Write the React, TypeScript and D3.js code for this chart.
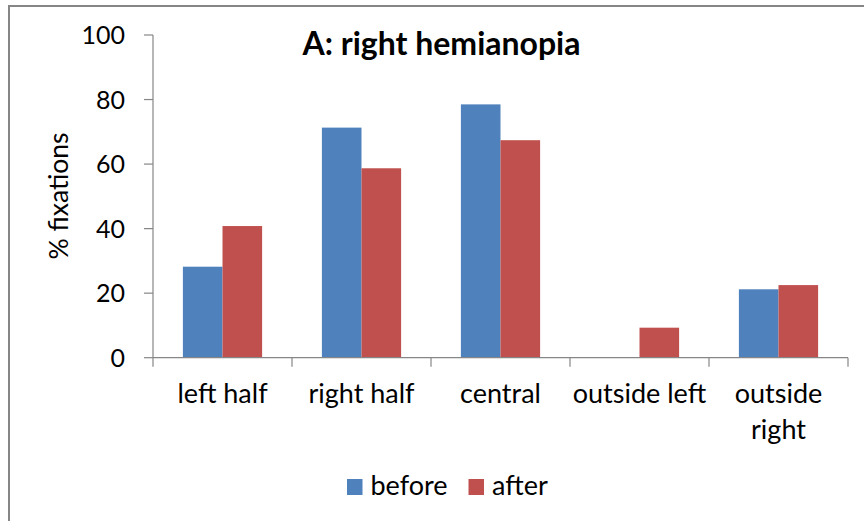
import React from "react";
import * as d3 from "d3";

const categories = ["left half", "right half", "central", "outside left", "outside right"];
const categoryLines = [["left half"], ["right half"], ["central"], ["outside left"], ["outside", "right"]];
const seriesNames = ["before", "after"];
const before = [28.2, 71.3, 78.5, 0, 21.2];
const after = [40.8, 58.7, 67.4, 9.3, 22.5];
const yTicks = [0, 20, 40, 60, 80, 100];
const colors = ["#4F81BD", "#C0504D"];

const W = 864;
const H = 521;
const FONT = "Lato, 'Open Sans', sans-serif";

export default function App() {
  const x0 = 153, x1 = 848, yBottom = 357.7, yTop = 35;
  const x = d3.scaleBand<string>().domain(categories).range([x0, x1]).paddingInner(0).paddingOuter(0);
  const y = d3.scaleLinear().domain([0, 100]).range([yBottom, yTop]);
  const groupPad = 0.215;
  const bw = x.bandwidth();
  const inner = d3.scaleBand<string>().domain(seriesNames).range([bw * groupPad, bw * (1 - groupPad)]);
  const data = [before, after];
  const legendX = [347, 468.5];

  return (
    <svg width={W} height={H} style={{ position: "absolute", left: 0, top: 0, background: "#fff" }}>
      <rect x={9} y={6} width={W + 10} height={H + 10} fill="#fff" stroke="#868686" strokeWidth={2} />
      <text x={441.5} y={55} textAnchor="middle" fontFamily={FONT} fontWeight="bold" fontSize={32} fill="#000">A: right hemianopia</text>
      {seriesNames.map((s, si) =>
        categories.map((c, ci) => {
          const v = data[si][ci];
          if (v <= 0) return null;
          return (
            <rect key={s + c} x={(x(c) as number) + (inner(s) as number)} y={y(v)} width={inner.bandwidth()} height={yBottom - y(v)} fill={colors[si]} />
          );
        })
      )}
      <line x1={x0} x2={x0} y1={yTop} y2={yBottom} stroke="#868686" strokeWidth={1.2} />
      {yTicks.map((t) => (
        <g key={t}>
          <line x1={x0 - 9} x2={x0} y1={y(t)} y2={y(t)} stroke="#868686" strokeWidth={1.2} />
          <text x={125} y={y(t)} dy="0.36em" textAnchor="end" fontFamily={FONT} fontSize={25} fill="#000">{t}</text>
        </g>
      ))}
      <line x1={x0} x2={x1} y1={yBottom} y2={yBottom} stroke="#868686" strokeWidth={1.2} />
      {categories.map((c) => (
        <line key={c} x1={(x(c) as number) + bw} x2={(x(c) as number) + bw} y1={yBottom} y2={yBottom + 9} stroke="#868686" strokeWidth={1.2} />
      ))}
      <line x1={x0} x2={x0} y1={yBottom} y2={yBottom + 9} stroke="#868686" strokeWidth={1.2} />
      {categories.map((c, i) => (
        <text key={c} textAnchor="middle" fontFamily={FONT} fontSize={27} fill="#000">
          {categoryLines[i].map((ln, li) => (
            <tspan key={li} x={(x(c) as number) + bw / 2} y={403 + li * 36}>{ln}</tspan>
          ))}
        </text>
      ))}
      <text transform="translate(68,196) rotate(-90)" textAnchor="middle" fontFamily={FONT} fontSize={26.5} fill="#000">% fixations</text>
      {seriesNames.map((s, i) => (
        <g key={s}>
          <rect x={legendX[i]} y={479} width={15.5} height={16} fill={colors[i]} />
          <text x={legendX[i] + 23.5} y={495} fontFamily={FONT} fontSize={27} fill="#000">{s}</text>
        </g>
      ))}
    </svg>
  );
}
